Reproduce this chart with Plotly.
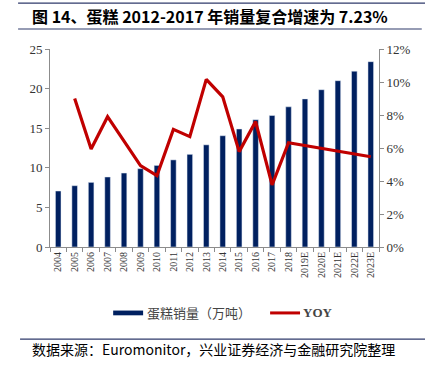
import plotly.graph_objects as go

years = ["2004", "2005", "2006", "2007", "2008", "2009", "2010", "2011", "2012", "2013",
         "2014", "2015", "2016", "2017", "2018", "2019E", "2020E", "2021E", "2022E", "2023E"]
sales = [7.07, 7.74, 8.16, 8.84, 9.34, 9.89, 10.3, 11.0, 11.7, 12.9,
         14.05, 14.9, 16.07, 16.6, 17.7, 18.7, 19.86, 21.0, 22.2, 23.4]
yoy = [None, 0.090, 0.0594, 0.079, 0.064, 0.0493, 0.0432, 0.0713, 0.0669, 0.1016,
       0.091, 0.0578, 0.076, 0.0376, 0.0632, 0.0615, 0.0598, 0.0581, 0.0564, 0.0547]

title_text = "图 14、蛋糕 2012-2017 年销量复合增速为 7.23%"
source_text = "数据来源：Euromonitor，兴业证券经济与金融研究院整理"
bar_name = "蛋糕销量（万吨）"
line_name = "YOY"

NAVY = "#002060"
RED = "#C00000"
SERIF = "Liberation Serif, Noto Sans CJK SC"
CJK = "Noto Sans CJK SC, Liberation Serif"

fig = go.Figure()
fig.add_trace(go.Bar(x=years, y=sales, name=bar_name, marker_color=NAVY,
                     width=0.34, showlegend=False))
fig.add_trace(go.Scatter(x=years, y=yoy, name=line_name, yaxis="y2", mode="lines",
                         line=dict(color=RED, width=3.2), showlegend=False,
                         connectgaps=False))

axis_color = "#8c8c8c"
fig.update_layout(
    width=425, height=368,
    margin=dict(l=50, r=46, t=49, b=121),
    paper_bgcolor="white", plot_bgcolor="white",
    xaxis=dict(type="category", showline=True, linecolor=axis_color, linewidth=1,
               ticks="outside", tickson="boundaries", ticklen=4, tickcolor=axis_color,
               tickangle=-90, tickfont=dict(family=SERIF, size=10, color="#333"),
               showgrid=False),
    yaxis=dict(range=[0, 25], dtick=5, showline=True, linecolor=axis_color,
               ticks="outside", ticklen=4, tickcolor=axis_color, showgrid=False,
               zeroline=False, tickfont=dict(family=SERIF, size=13, color="#333")),
    yaxis2=dict(range=[0, 0.12], dtick=0.02, tickformat=".0%", overlaying="y",
                side="right", showline=True, linecolor=axis_color, ticks="outside",
                ticklen=4, tickcolor=axis_color, showgrid=False, zeroline=False,
                tickfont=dict(family=SERIF, size=13, color="#333")),
    bargap=0.5,
)

# header / footer rules
line_style = dict(color="#2f3a6b", width=1.2)
fig.add_shape(type="line", xref="paper", yref="paper", x0=-0.097, x1=1.14,
              y0=1.232, y1=1.232, line=line_style)
fig.add_shape(type="line", xref="paper", yref="paper", x0=-0.097, x1=1.13,
              y0=1.101, y1=1.101, line=line_style)
fig.add_shape(type="line", xref="paper", yref="paper", x0=-0.091, x1=1.14,
              y0=-0.465, y1=-0.465, line=line_style)

fig.add_annotation(text="<b>" + title_text + "</b>", xref="paper", yref="paper",
                   x=-0.06, y=1.167, xanchor="left", yanchor="middle", showarrow=False,
                   font=dict(family=CJK, size=16, color="black"))
fig.add_annotation(text=source_text, xref="paper", yref="paper",
                   x=-0.062, y=-0.515, xanchor="left", yanchor="middle", showarrow=False,
                   font=dict(family=CJK, size=14, color="black"))

# legend (drawn manually)
ly = -0.333
fig.add_shape(type="rect", xref="paper", yref="paper", x0=0.192, x1=0.283,
              y0=ly - 0.012, y1=ly + 0.012, fillcolor=NAVY, line=dict(width=0))
fig.add_annotation(text=bar_name, xref="paper", yref="paper", x=0.288, y=ly,
                   xanchor="left", yanchor="middle", showarrow=False,
                   font=dict(family=CJK, size=13, color="#444"))
fig.add_shape(type="line", xref="paper", yref="paper", x0=0.669, x1=0.76,
              y0=ly, y1=ly, line=dict(color=RED, width=3))
fig.add_annotation(text="<b>" + line_name + "</b>", xref="paper", yref="paper",
                   x=0.762, y=ly, xanchor="left", yanchor="middle", showarrow=False,
                   font=dict(family=SERIF, size=13, color="#444"))

fig.write_html("out.html", config={"displayModeBar": False},
               post_script="document.body.style.margin='0';document.body.style.padding='0';")
